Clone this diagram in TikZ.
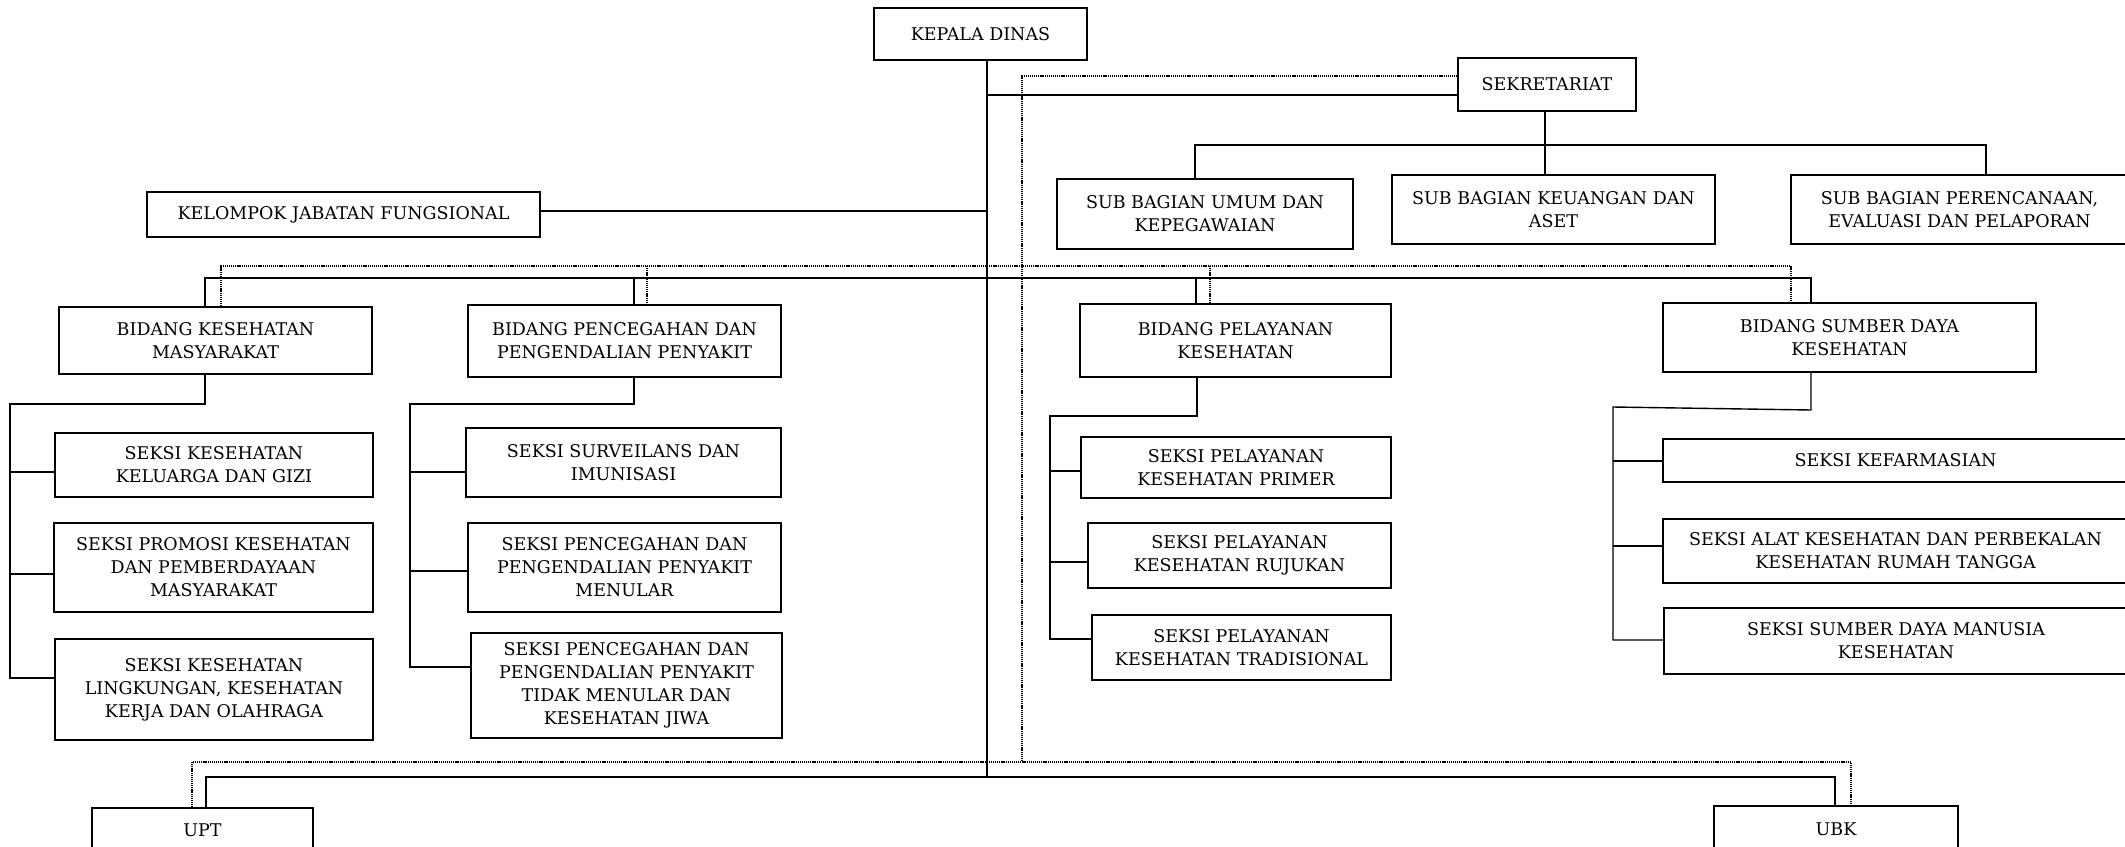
\documentclass[tikz,border=0pt]{standalone}
\usepackage{fontspec}
\setmainfont{DejaVu Serif}
\usetikzlibrary{calc}
\tikzset{
  box/.style={draw, line width=1.3pt, inner sep=0pt, align=center, fill=white,
    font=\fontsize{17.5}{23}\selectfont},
  conn/.style={line width=1.4pt},
  dot/.style={dash pattern=on 1.2pt off 0.9pt, line width=1.2pt}
}
\newcommand{\bx}[7]{\node[box, minimum width=#4, minimum height=#5, #6] (#1) at (#2,#3) {#7};}
\begin{document}
\begin{tikzpicture}[x=1pt,y=-1pt]
\clip (0,0) rectangle (2125,846);
\fill[white] (0,0) rectangle (2125,846);
% boxes
\bx{kd}{980.5}{34}{213}{52}{line width=2.2pt}{KEPALA DINAS}
\bx{sek}{1547}{84.5}{178}{53}{}{SEKRETARIAT}
\bx{kjf}{343.5}{214.5}{393}{45}{}{KELOMPOK JABATAN FUNGSIONAL}
\bx{sba}{1205}{214}{296}{70}{}{SUB BAGIAN UMUM DAN\\KEPEGAWAIAN}
\bx{sbb}{1553.5}{209.5}{323}{69}{}{SUB BAGIAN KEUANGAN DAN\\ASET}
\bx{sbc}{1959.5}{209.5}{337}{69}{}{SUB BAGIAN PERENCANAAN,\\EVALUASI DAN PELAPORAN}
\bx{ba}{215.5}{340.5}{313}{67}{}{BIDANG KESEHATAN\\MASYARAKAT}
\bx{bb}{624.5}{341}{313}{72}{}{BIDANG PENCEGAHAN DAN\\PENGENDALIAN PENYAKIT}
\bx{bc}{1235.5}{340.5}{311}{73}{}{BIDANG PELAYANAN\\KESEHATAN}
\bx{bd}{1849.5}{337.5}{373}{69}{}{BIDANG SUMBER DAYA\\KESEHATAN}
\bx{saa}{214}{465}{318}{64}{}{SEKSI KESEHATAN\\KELUARGA DAN GIZI}
\bx{sab}{213.5}{567.5}{319}{89}{}{SEKSI PROMOSI KESEHATAN\\DAN PEMBERDAYAAN\\MASYARAKAT}
\bx{sac}{214}{689.5}{318}{101}{}{SEKSI KESEHATAN\\LINGKUNGAN, KESEHATAN\\KERJA DAN OLAHRAGA}
\bx{sba2}{623.5}{462.5}{315}{69}{}{SEKSI SURVEILANS DAN\\IMUNISASI}
\bx{sbb2}{624.5}{567.5}{313}{89}{}{SEKSI PENCEGAHAN DAN\\PENGENDALIAN PENYAKIT\\MENULAR}
\bx{sbc2}{626.5}{685.5}{311}{105}{}{SEKSI PENCEGAHAN DAN\\PENGENDALIAN PENYAKIT\\TIDAK MENULAR DAN\\KESEHATAN JIWA}
\bx{sca}{1236}{467.5}{310}{61}{}{SEKSI PELAYANAN\\KESEHATAN PRIMER}
\bx{scb}{1239.5}{555.5}{303}{65}{}{SEKSI PELAYANAN\\KESEHATAN RUJUKAN}
\bx{scc}{1241.5}{647.5}{299}{65}{}{SEKSI PELAYANAN\\KESEHATAN TRADISIONAL}
\bx{sda}{1895.5}{460.5}{465}{43}{}{SEKSI KEFARMASIAN}
\bx{sdb}{1895.5}{551}{465}{64}{}{SEKSI ALAT KESEHATAN DAN PERBEKALAN\\KESEHATAN RUMAH TANGGA}
\bx{sdc}{1896}{641}{464}{66}{}{SEKSI SUMBER DAYA MANUSIA\\KESEHATAN}
\bx{upt}{202.5}{830}{221}{44}{}{UPT}
\bx{ubk}{1836}{829}{244}{46}{}{UBK}
% junction coordinates
\coordinate (mainbot) at (987,777);
\coordinate (jsek) at (987,95);
\coordinate (jkjf) at (987,211);
\coordinate (jsb) at (1545,145);
\coordinate (jsbL) at (1195,145);
\coordinate (jsbR) at (1986,145);
\coordinate (jb1) at (205,278);
\coordinate (jb2) at (634,278);
\coordinate (jb3) at (1196,278);
\coordinate (jb4) at (1811,278);
\coordinate (ka1) at (205,404);
\coordinate (ka2) at (10,404);
\coordinate (ka3) at (10,678);
\coordinate (kas1) at (10,472);
\coordinate (kas2) at (10,574);
\coordinate (kb1) at (634,404);
\coordinate (kb2) at (410,404);
\coordinate (kb3) at (410,667);
\coordinate (kbs1) at (410,472);
\coordinate (kbs2) at (410,571);
\coordinate (kc1) at (1197,416);
\coordinate (kc2) at (1050,416);
\coordinate (kc3) at (1050,639);
\coordinate (kcs1) at (1050,471);
\coordinate (kcs2) at (1050,562);
\coordinate (kd1) at (1811,410);
\coordinate (kd2) at (1613,407);
\coordinate (kd3) at (1613,640);
\coordinate (kds1) at (1613,461);
\coordinate (kds2) at (1613,546);
\coordinate (bb1) at (206,777);
\coordinate (bb2) at (1835,777);
\coordinate (d1) at (1022,76);
\coordinate (d2) at (1022,762);
\coordinate (dL) at (192,762);
\coordinate (dR) at (1851,762);
\coordinate (db1) at (221,266);
\coordinate (db2) at (647,266);
\coordinate (db3) at (1210,266);
\coordinate (db4) at (1791,266);
% solid connectors
\draw[conn] (kd.south -| mainbot) -- (mainbot);
\draw[conn] (jsek) -- (jsek -| sek.west);
\draw[conn] (kjf.east |- jkjf) -- (jkjf);
\draw[conn] (sek.south -| jsb) -- (jsb |- sbb.north);
\draw[conn] (jsbL |- sba.north) -- (jsbL) -- (jsbR) -- (jsbR |- sbc.north);
\draw[conn] (jb1 |- ba.north) -- (jb1) -- (jb4) -- (jb4 |- bd.north);
\draw[conn] (jb2) -- (jb2 |- bb.north);
\draw[conn] (jb3) -- (jb3 |- bc.north);
\draw[conn] (ba.south -| ka1) -- (ka1) -- (ka2) -- (ka3) -- (ka3 -| sac.west);
\draw[conn] (kas1) -- (kas1 -| saa.west);
\draw[conn] (kas2) -- (kas2 -| sab.west);
\draw[conn] (bb.south -| kb1) -- (kb1) -- (kb2) -- (kb3) -- (kb3 -| sbc2.west);
\draw[conn] (kbs1) -- (kbs1 -| sba2.west);
\draw[conn] (kbs2) -- (kbs2 -| sbb2.west);
\draw[conn] (bc.south -| kc1) -- (kc1) -- (kc2) -- (kc3) -- (kc3 -| scc.west);
\draw[conn] (kcs1) -- (kcs1 -| sca.west);
\draw[conn] (kcs2) -- (kcs2 -| scb.west);
\draw[conn] (bd.south -| kd1) -- (kd1) -- (kd2) -- (kd3) -- (kd3 -| sdc.west);
\draw[conn] (kds1) -- (kds1 -| sda.west);
\draw[conn] (kds2) -- (kds2 -| sdb.west);
\draw[conn] (bb1 |- upt.north) -- (bb1) -- (bb2) -- (bb2 |- ubk.north);
% dotted connectors
\draw[dot] (d1 -| sek.west) -- (d1) -- (d2);
\draw[dot] (dL |- upt.north) -- (dL) -- (dR) -- (dR |- ubk.north);
\draw[dot] (db1 |- ba.north) -- (db1) -- (db4) -- (db4 |- bd.north);
\draw[dot] (db2) -- (db2 |- bb.north);
\draw[dot] (db3) -- (db3 |- bc.north);
\end{tikzpicture}
\end{document}
